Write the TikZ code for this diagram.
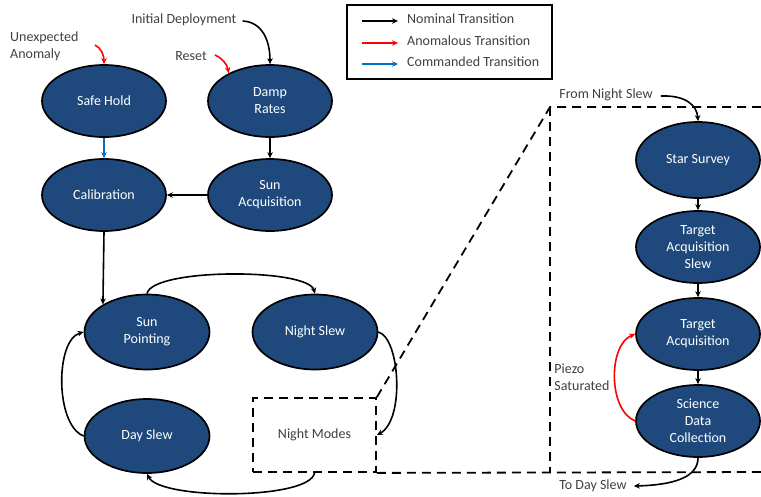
\documentclass[tikz,border=0pt]{standalone}
\usepackage{fontspec}
\setmainfont{Carlito}
\usetikzlibrary{shapes.geometric,arrows.meta}
\definecolor{nodeblue}{RGB}{31,73,125}
\definecolor{cmdblue}{RGB}{0,112,192}
\definecolor{anored}{RGB}{255,0,0}
\definecolor{labelgray}{RGB}{64,64,64}
\tikzset{
  mode/.style={ellipse, draw=black, line width=1.7pt, fill=nodeblue, text=white,
    minimum width=124pt, minimum height=72pt, inner sep=0pt, align=center,
    font=\fontsize{14}{17}\selectfont},
  lbl/.style={text=labelgray, font=\fontsize{14}{17}\selectfont, inner sep=0pt, align=left},
  arr/.style={line width=1.6pt, -{Stealth[length=6pt,width=5.5pt]}},
  nomarr/.style={arr, draw=black},
  anoarr/.style={arr, draw=anored},
  cmdarr/.style={arr, draw=cmdblue},
  dbox/.style={line width=1.8pt, dash pattern=on 9pt off 6pt},
}
\begin{document}
\begin{tikzpicture}[x=1pt,y=-1pt]
\useasboundingbox (0,0) rectangle (761,496);
\fill[white] (0,0) rectangle (761,496);

% legend
\draw[line width=1.3pt] (347,5) rectangle (552,79);
\coordinate (l1a) at (362,21); \coordinate (l1b) at (398,21);
\coordinate (l2a) at (362,43); \coordinate (l2b) at (398,43);
\coordinate (l3a) at (362,64); \coordinate (l3b) at (398,64);
\draw[nomarr] (l1a) -- (l1b);
\draw[anoarr] (l2a) -- (l2b);
\draw[cmdarr] (l3a) -- (l3b);
\node[lbl, anchor=west] (t1) at (407,19) {Nominal Transition};
\node[lbl, anchor=west] (t2) at (407,41) {Anomalous Transition};
\node[lbl, anchor=west] (t3) at (407,62) {Commanded Transition};

% left nodes
\node[mode] (SH) at (104,101) {Safe Hold};
\node[mode] (DR) at (270,101) {Damp\\Rates};
\node[mode] (CAL) at (104,195) {Calibration};
\node[mode] (SA) at (270,195) {Sun\\Acquisition};
\node[mode, minimum width=125pt, minimum height=75pt] (SP) at (147,332) {Sun\\Pointing};
\node[mode, minimum width=125pt, minimum height=75pt] (NS) at (315,332) {Night Slew};
\node[mode, minimum width=125pt, minimum height=74pt] (DS) at (147,436) {Day Slew};
\node[lbl, draw=black, dbox, minimum width=123pt, minimum height=74pt, align=center] (NM) at (314.5,435) {Night Modes};

% right nodes
\node[mode, minimum height=76pt] (SS) at (698,160) {Star Survey};
\node[mode] (TAS) at (698,247) {Target\\Acquisition\\Slew};
\node[mode] (TA) at (698,334) {Target\\Acquisition};
\node[mode] (SDC) at (698,421) {Science\\Data\\Collection};

% labels
\node[lbl, anchor=west] (ua) at (10,46) {Unexpected\\Anomaly};
\node[lbl] (ini) at (184,20) {Initial Deployment};
\node[lbl] (rst) at (191,56) {Reset};
\node[lbl] (fns) at (606,95) {From Night Slew};
\node[lbl] (pz) at (582,377) {Piezo\\Saturated};
\node[lbl] (tds) at (593,486) {To Day Slew};

% big dashed box
\coordinate (bTL) at (550,107);
\coordinate (bTR) at (764,107);
\coordinate (bBL) at (550,472);
\coordinate (bBR) at (764,472);
\draw[dbox] (NM.north east) -- (bTL) -- (bTR);
\draw[dbox] (bTL) -- (bBL);
\draw[dbox] (NM.south east) -- (bBR);

% transitions left
\draw[anoarr] (95,45) .. controls (101,48) and (104,55) .. (SH.north);
\draw[nomarr] (ini.east) ++(6,1) .. controls (262,22) and (270,40) .. (DR.north);
\draw[anoarr] (rst.east) ++(8,-1) .. controls (222,58) and (227,64) .. (DR.146);
\draw[cmdarr] (SH.south) -- (CAL.north);
\draw[nomarr] (DR.south) -- (SA.north);
\draw[nomarr] (SA.west) -- (CAL.east);
\draw[nomarr] (CAL.south) -- (SP.148);
\draw[nomarr] (SP.north) .. controls (152,268) and (308,268) .. (NS.north);
\draw[nomarr] (NS.east) .. controls (400,338) and (405,420) .. (NM.east);
\draw[nomarr] (NM.south) .. controls (310,500) and (160,500) .. (DS.south);
\draw[nomarr] (DS.west) .. controls (55,425) and (55,340) .. (SP.west);

% transitions right
\draw[nomarr] (fns.east) ++(8,1) .. controls (685,95) and (697,105) .. (SS.north);
\draw[nomarr] (SS.south) -- (TAS.north);
\draw[nomarr] (TAS.south) -- (TA.north);
\draw[nomarr] (TA.south) -- (SDC.north);
\draw[anoarr] (SDC.west) .. controls (608,410) and (608,345) .. (TA.west);
\draw[nomarr] (SDC.south) .. controls (698,478) and (672,485) .. ([xshift=7pt]tds.east);
\end{tikzpicture}
\end{document}
